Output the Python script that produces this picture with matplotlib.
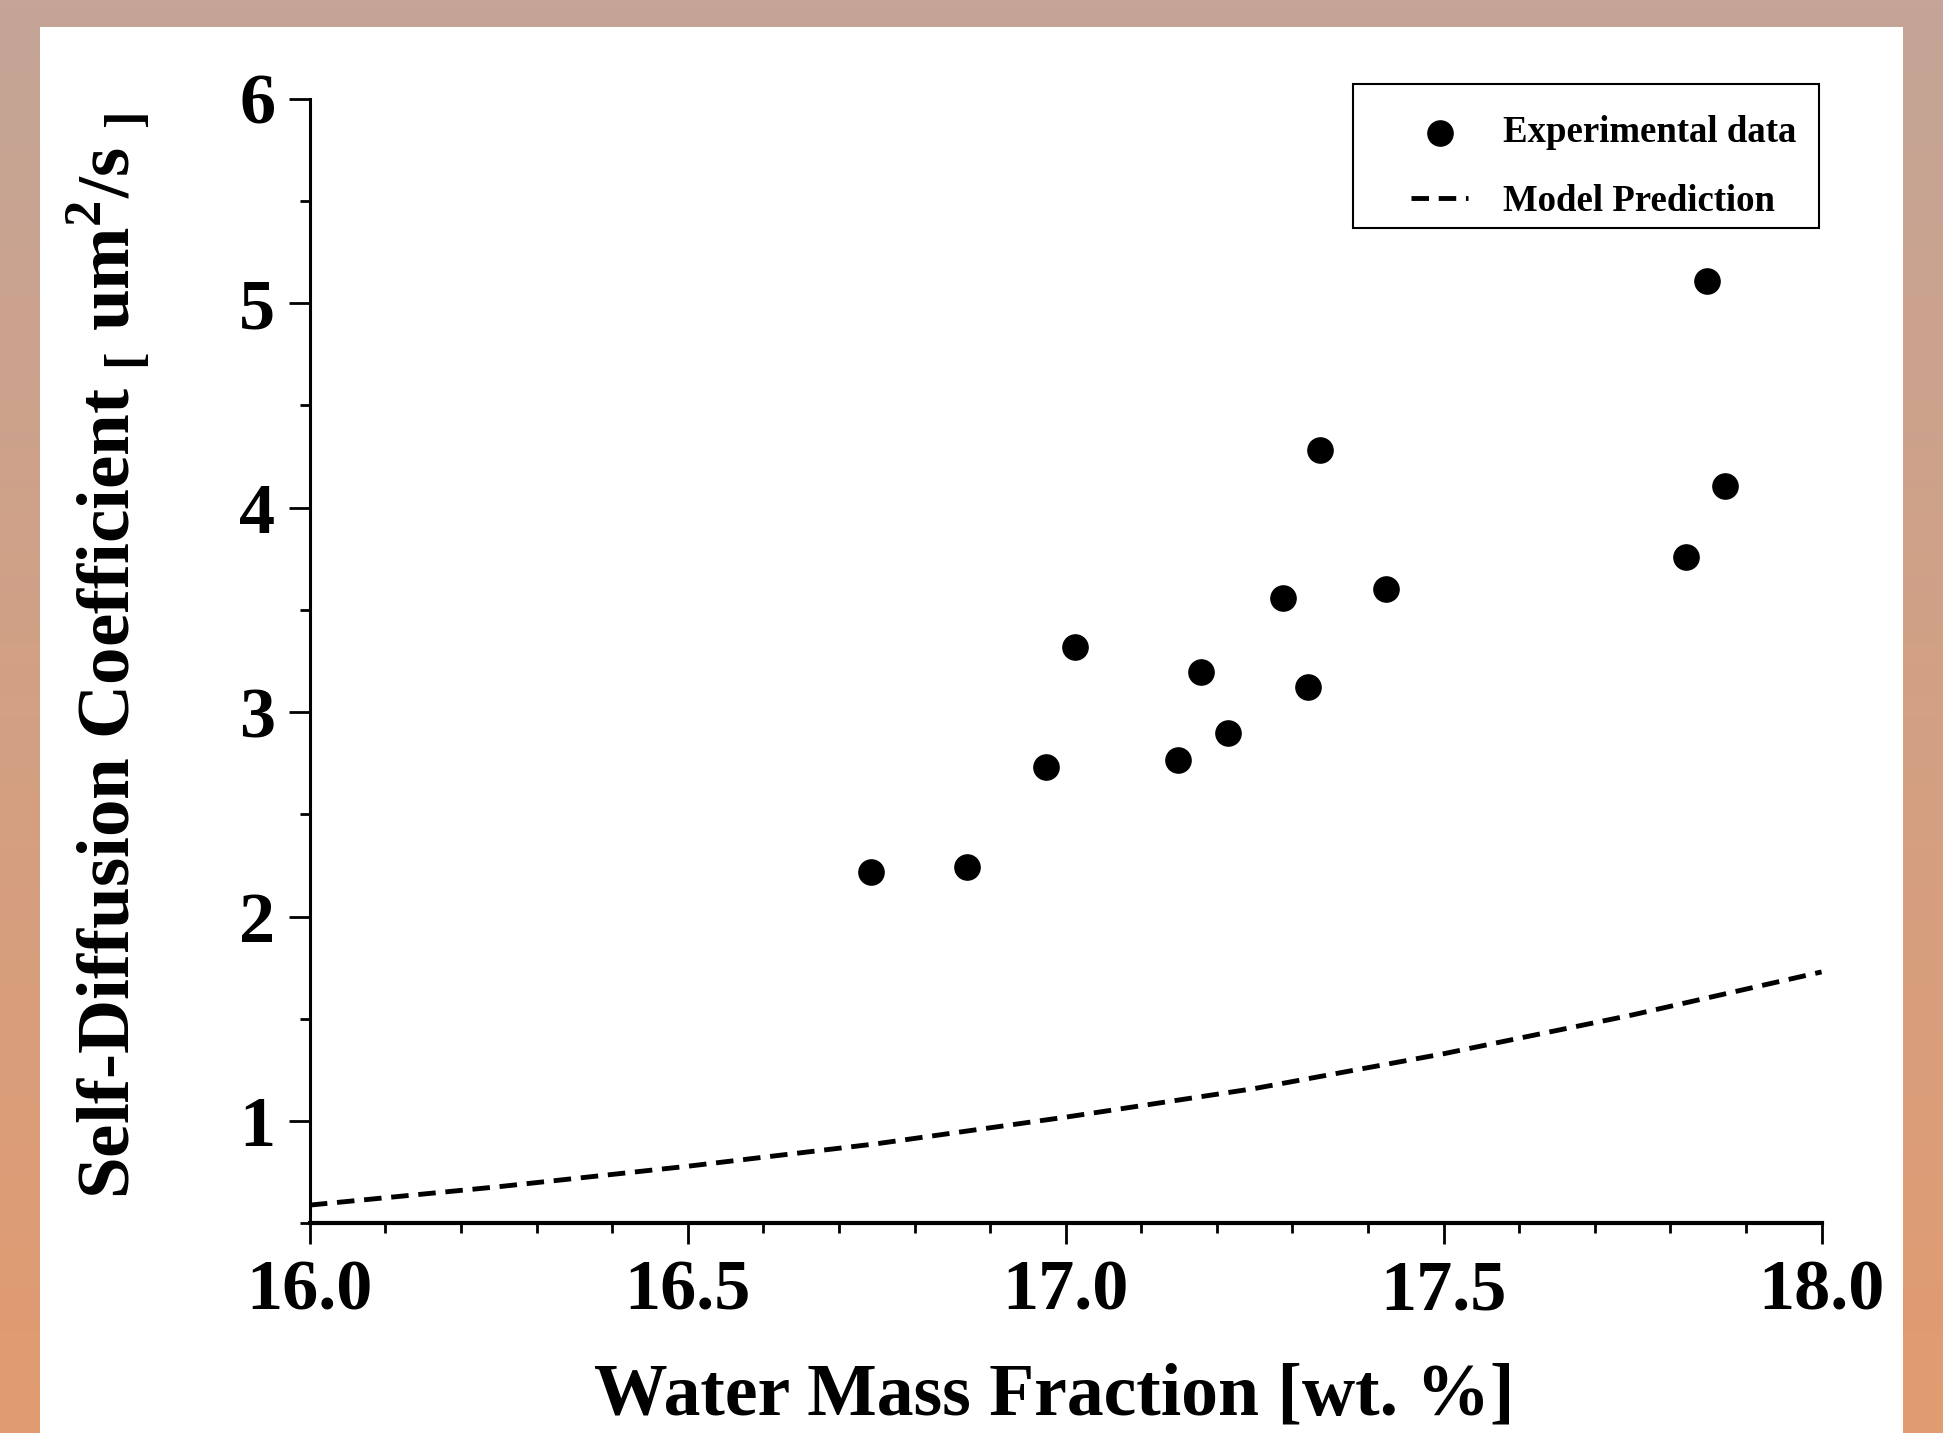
import numpy as np
import matplotlib
matplotlib.use("Agg")
import matplotlib.pyplot as plt
from matplotlib.ticker import MultipleLocator
from matplotlib.patches import Rectangle

plt.rcParams['font.family'] = ['Liberation Serif', 'DejaVu Serif']
plt.rcParams['font.weight'] = 'bold'
plt.rcParams['mathtext.fontset'] = 'custom'
plt.rcParams['mathtext.rm'] = 'Liberation Serif:bold'
plt.rcParams['mathtext.bf'] = 'Liberation Serif:bold'

# experimental points
exp_x = [16.742, 16.870, 16.974, 17.012, 17.148, 17.179, 17.215, 17.288,
         17.321, 17.337, 17.424, 17.821, 17.849, 17.872]
exp_y = [2.220, 2.245, 2.734, 3.318, 2.765, 3.195, 2.900, 3.560,
         3.123, 4.282, 3.601, 3.761, 5.107, 4.107]

# model prediction curve
model_x = [16.0, 16.25, 16.5, 16.75, 17.0, 17.25, 17.5, 17.75, 18.0]
model_y = [0.59, 0.68, 0.78, 0.89, 1.02, 1.16, 1.33, 1.52, 1.73]

fig = plt.figure(figsize=(19.43, 14.33), dpi=100)

# background gradient + white panel
bg = fig.add_axes([0, 0, 1, 1], zorder=-10)
top = np.array([196, 165, 151]) / 255
bot = np.array([225, 155, 112]) / 255
t = np.linspace(0, 1, 256)[:, None]
grad = (top * (1 - t) + bot * t)[:, None, :]
bg.imshow(grad, aspect='auto', extent=[0, 1, 0, 1])
bg.add_patch(Rectangle((40 / 1943, 0), (1903 - 40) / 1943, 1 - 27 / 1433,
                       facecolor='white', edgecolor='none'))
bg.set_xlim(0, 1)
bg.set_ylim(0, 1)
bg.axis('off')

ax = fig.add_axes([0.1595, 0.1462, 0.778, 0.785])
ax.patch.set_alpha(0)

ax.plot(model_x, model_y, color='black', lw=3.5, dashes=(3.6, 2.0),
        label='Model Prediction')
ax.scatter(exp_x, exp_y, s=330, color='black', zorder=3,
           label='Experimental data')

ax.set_xlim(16.0, 18.0)
ax.set_ylim(0.5, 6.0)
ax.xaxis.set_major_locator(MultipleLocator(0.5))
ax.xaxis.set_minor_locator(MultipleLocator(0.1))
ax.yaxis.set_major_locator(MultipleLocator(1))
ax.yaxis.set_minor_locator(MultipleLocator(0.5))
ax.xaxis.set_major_formatter(plt.FormatStrFormatter('%.1f'))
ax.set_yticks([1, 2, 3, 4, 5, 6])

for s in ['top', 'right']:
    ax.spines[s].set_visible(False)
ax.spines['left'].set_linewidth(2.2)
ax.spines['bottom'].set_linewidth(3)

ax.tick_params(which='major', direction='out', length=15, width=2, labelsize=52)
ax.tick_params(which='minor', direction='out', length=7, width=2)
ax.tick_params(axis='x', which='major', pad=11)
ax.tick_params(axis='y', which='major', pad=10)

ax.set_xlabel('Water Mass Fraction [wt. %]', fontsize=53, fontweight='bold')
ax.xaxis.set_label_coords(0.4927, -0.124)
ax.set_ylabel('Self-Diffusion Coefficient $_{[}$ um$^{2}$/s $_{]}$',
              fontsize=54, fontweight='bold')
ax.yaxis.set_label_coords(-0.105, 0.505)

h, l = ax.get_legend_handles_labels()
leg = ax.legend(h[::-1], l[::-1], loc='upper right',
                bbox_to_anchor=(0.9835, 0.985), fontsize=26.5, frameon=False,
                handlelength=1.55, borderpad=0, labelspacing=0.9,
                handletextpad=0.95, borderaxespad=0, markerscale=1.0)
ax.add_patch(Rectangle((0.690, 0.885), 0.998 - 0.690, 1.013 - 0.885,
                       transform=ax.transAxes, fill=False, edgecolor='black',
                       lw=1.5, clip_on=False, zorder=4))

fig.savefig('out.png', dpi=100)
